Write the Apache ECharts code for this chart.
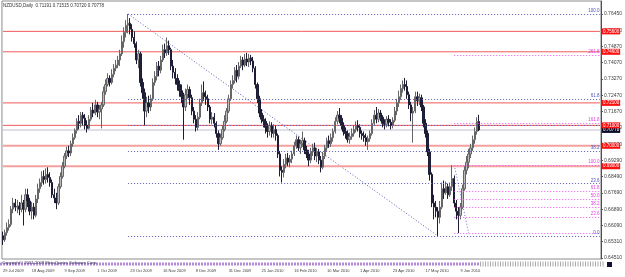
<!DOCTYPE html>
<html><head><meta charset="utf-8">
<script src="https://cdn.jsdelivr.net/npm/echarts@6/dist/echarts.min.js"></script>
<style>html,body{margin:0;padding:0;background:#fff}#c{width:625px;height:277px}</style>
</head><body><div id="c"></div>
<script>
const symbol = 'NZDUSD';
const period = 'Daily';
const slotCount = 292;
const dateTicks = ['29 Jul 2009','18 Aug 2009','9 Sep 2009','1 Oct 2009','23 Oct 2009','16 Nov 2009','8 Dec 2009','31 Dec 2009','25 Jan 2010','16 Feb 2010','10 Mar 2010','1 Apr 2010','23 Apr 2010','17 May 2010','9 Jun 2010'];
const yTicks = [0.76450,0.75650,0.74870,0.74070,0.73270,0.72470,0.71670,0.70870,0.70070,0.69290,0.68490,0.67690,0.66890,0.66090,0.65310,0.64510];
// [open, close, low, high]
const candles = [
[.6560,.6540,.6515,.6580],[.6540,.6575,.6530,.6590],[.6575,.6600,.6560,.6625],[.6600,.6615,.6585,.6640],[.6615,.6690,.6605,.6705],
[.6690,.6720,.6670,.6745],[.6720,.6700,.6680,.6740],[.6700,.6705,.6670,.6735],[.6705,.6690,.6660,.6725],[.6690,.6720,.6675,.6760],
[.6720,.6690,.6610,.6735],[.6690,.6760,.6675,.6790],[.6760,.6730,.6700,.6790],[.6730,.6680,.6660,.6745],[.6680,.6700,.6640,.6725],
[.6700,.6660,.6640,.6720],[.6660,.6740,.6650,.6760],[.6740,.6790,.6720,.6815],[.6790,.6820,.6770,.6840],[.6820,.6850,.6800,.6875],
[.6850,.6835,.6810,.6880],[.6835,.6860,.6815,.6890],[.6860,.6845,.6820,.6895],[.6845,.6820,.6800,.6870],[.6820,.6760,.6745,.6835],
[.6760,.6745,.6720,.6790],[.6745,.6720,.6690,.6770],[.6720,.6800,.6710,.6815],[.6800,.6850,.6790,.6870],[.6850,.6900,.6840,.6920],
[.6900,.6950,.6890,.6965],[.6950,.6975,.6935,.6995],[.6975,.6965,.6945,.7000],[.6965,.7010,.6950,.7025],[.7010,.7040,.6995,.7060],
[.7040,.7075,.7030,.7085],[.7075,.7120,.7060,.7135],[.7120,.7110,.7080,.7150],[.7110,.7150,.7090,.7165],[.7150,.7135,.7100,.7165],
[.7135,.7100,.7080,.7155],[.7100,.7085,.7065,.7125],[.7085,.7130,.7080,.7150],[.7130,.7175,.7120,.7190],[.7175,.7160,.7140,.7210],
[.7160,.7200,.7150,.7225],[.7200,.7165,.7140,.7215],[.7165,.7180,.7130,.7200],[.7180,.7200,.7085,.7215],[.7200,.7265,.7190,.7290],
[.7265,.7300,.7250,.7325],[.7300,.7330,.7290,.7355],[.7330,.7310,.7290,.7345],[.7310,.7350,.7300,.7375],[.7350,.7380,.7335,.7400],
[.7380,.7395,.7365,.7420],[.7395,.7420,.7380,.7440],[.7420,.7450,.7390,.7470],[.7450,.7510,.7440,.7540],[.7510,.7555,.7480,.7580],
[.7555,.7590,.7530,.7615],[.7590,.7600,.7550,.7645],[.7600,.7570,.7545,.7625],[.7570,.7530,.7510,.7595],[.7530,.7500,.7480,.7560],
[.7500,.7420,.7400,.7510],[.7420,.7450,.7380,.7470],[.7450,.7310,.7290,.7460],[.7310,.7260,.7230,.7330],[.7260,.7170,.7100,.7280],
[.7170,.7210,.7140,.7240],[.7210,.7190,.7160,.7245],[.7190,.7230,.7170,.7250],[.7230,.7310,.7220,.7330],[.7310,.7340,.7295,.7365],
[.7340,.7390,.7320,.7410],[.7390,.7370,.7340,.7415],[.7370,.7420,.7355,.7440],[.7420,.7470,.7410,.7495],[.7470,.7455,.7430,.7500],
[.7455,.7490,.7440,.7530],[.7490,.7470,.7445,.7515],[.7470,.7390,.7370,.7480],[.7390,.7360,.7330,.7420],[.7360,.7330,.7300,.7380],
[.7330,.7300,.7270,.7350],[.7300,.7270,.7240,.7320],[.7270,.7240,.7210,.7300],[.7240,.7190,.7030,.7260],[.7190,.7250,.7170,.7280],
[.7250,.7275,.7230,.7300],[.7275,.7235,.7200,.7290],[.7235,.7170,.7150,.7250],[.7170,.7130,.7110,.7190],[.7130,.7090,.7070,.7150],
[.7090,.7140,.7075,.7165],[.7140,.7210,.7130,.7230],[.7210,.7260,.7195,.7300],[.7260,.7240,.7220,.7315],[.7240,.7230,.7200,.7270],
[.7230,.7190,.7170,.7250],[.7190,.7130,.7110,.7200],[.7130,.7140,.7105,.7165],[.7140,.7110,.7090,.7160],[.7110,.7060,.7040,.7120],
[.7060,.7010,.6980,.7075],[.7010,.7040,.7000,.7060],[.7040,.7080,.7030,.7100],[.7080,.7120,.7070,.7150],[.7120,.7170,.7110,.7185],
[.7170,.7230,.7160,.7250],[.7230,.7300,.7220,.7320],[.7300,.7320,.7280,.7345],[.7320,.7370,.7305,.7385],[.7370,.7340,.7310,.7395],
[.7340,.7390,.7325,.7410],[.7390,.7420,.7380,.7440],[.7420,.7395,.7370,.7435],[.7395,.7425,.7385,.7450],[.7425,.7410,.7390,.7455],
[.7410,.7430,.7385,.7450],[.7430,.7415,.7395,.7445],[.7415,.7380,.7360,.7435],[.7380,.7300,.7280,.7390],[.7300,.7230,.7210,.7310],
[.7230,.7160,.7140,.7245],[.7160,.7130,.7110,.7180],[.7130,.7120,.7090,.7150],[.7120,.7090,.7060,.7135],[.7090,.7070,.7040,.7110],
[.7070,.7100,.7050,.7120],[.7100,.7060,.7040,.7115],[.7060,.7080,.7040,.7105],[.7080,.7050,.7025,.7100],[.7050,.6960,.6940,.7060],
[.6960,.6880,.6850,.6975],[.6880,.6870,.6820,.6900],[.6870,.6910,.6845,.6935],[.6910,.6940,.6890,.6960],[.6940,.6920,.6900,.6965],
[.6920,.6935,.6895,.6955],[.6935,.6960,.6915,.6975],[.6960,.7000,.6950,.7020],[.7000,.7030,.6985,.7050],[.7030,.6990,.6975,.7045],
[.6990,.7010,.6960,.7030],[.7010,.7025,.6995,.7070],[.7025,.6980,.6960,.7040],[.6980,.6960,.6940,.7000],[.6960,.6930,.6900,.6980],
[.6930,.6970,.6915,.6990],[.6970,.6990,.6950,.7010],[.6990,.6950,.6930,.7015],[.6950,.6970,.6920,.6990],[.6970,.6930,.6910,.6985],
[.6930,.6895,.6870,.6950],[.6895,.6950,.6885,.6970],[.6950,.6990,.6935,.7005],[.6990,.7025,.6975,.7040],[.7025,.7010,.6990,.7050],
[.7010,.7040,.6995,.7060],[.7040,.7070,.7020,.7085],[.7070,.7120,.7060,.7140],[.7120,.7150,.7105,.7170],[.7150,.7135,.7110,.7185],
[.7135,.7100,.7080,.7150],[.7100,.7070,.7050,.7115],[.7070,.7060,.7035,.7090],[.7060,.7030,.7015,.7075],[.7030,.7045,.7010,.7065],
[.7045,.7060,.7030,.7085],[.7060,.7080,.7045,.7100],[.7080,.7100,.7065,.7120],[.7100,.7090,.7070,.7125],[.7090,.7060,.7040,.7105],
[.7060,.7050,.7030,.7075],[.7050,.7040,.7020,.7070],[.7040,.7020,.7000,.7060],[.7020,.7035,.6980,.7050],[.7035,.7060,.7020,.7075],
[.7060,.7110,.7050,.7130],[.7110,.7150,.7100,.7175],[.7150,.7130,.7110,.7190],[.7130,.7160,.7115,.7180],[.7160,.7140,.7120,.7175],
[.7140,.7110,.7090,.7150],[.7110,.7105,.7080,.7130],[.7105,.7130,.7090,.7145],[.7130,.7115,.7095,.7150],[.7115,.7100,.7080,.7130],
[.7100,.7125,.7085,.7140],[.7125,.7170,.7115,.7190],[.7170,.7210,.7150,.7230],[.7210,.7240,.7190,.7270],[.7240,.7280,.7225,.7300],
[.7280,.7300,.7260,.7320],[.7300,.7290,.7270,.7332],[.7290,.7250,.7230,.7320],[.7250,.7200,.7180,.7265],[.7200,.7160,.7120,.7215],
[.7160,.7170,.7015,.7190],[.7170,.7240,.7160,.7265],[.7240,.7220,.7195,.7265],[.7220,.7235,.7200,.7255],[.7235,.7190,.7170,.7250],
[.7190,.7110,.7090,.7200],[.7110,.7060,.7040,.7130],[.7060,.6970,.6950,.7075],[.6970,.6860,.6830,.6985],[.6860,.6720,.6700,.6870],
[.6720,.6700,.6640,.6760],[.6700,.6680,.6650,.6730],[.6680,.6650,.6559,.6700],[.6650,.6700,.6620,.6730],[.6700,.6790,.6690,.6820],
[.6790,.6770,.6740,.6830],[.6770,.6800,.6760,.6825],[.6800,.6760,.6740,.6815],[.6760,.6800,.6750,.6820],[.6800,.6840,.6780,.6906],
[.6840,.6720,.6700,.6855],[.6720,.6680,.6640,.6735],[.6680,.6660,.6573,.6700],[.6660,.6700,.6640,.6720],[.6700,.6790,.6690,.6810],
[.6790,.6880,.6780,.6900],[.6880,.6920,.6860,.6950],[.6920,.6960,.6890,.6985],[.6960,.6990,.6940,.7010],[.6990,.7030,.6975,.7050],
[.7030,.7070,.7010,.7090],[.7070,.7119,.7055,.7140],[.71191,.70778,.70720,.71515]
];
const redLevels = [0.7560, 0.7460, 0.7210, 0.7100, 0.7000, 0.6900];
const bidPrice = 0.70778;
const fibAnchorsA = [[61, 0.7645], [212, 0.6559]];
const fibLevelsA = [100, 61.8, 50, 38.2, 23.6, 0];
const fibAnchorsB = [[220, 0.6906], [227, 0.6573]];
const fibLevelsB = [261.8, 161.8, 100, 61.8, 50, 38.2, 23.6, 0];
const copyrightText = 'Copyright\u00a9 2001-2009 MetaQuotes Software Corp.';

const MON = ['Jan','Feb','Mar','Apr','May','Jun','Jul','Aug','Sep','Oct','Nov','Dec'];
const cats = [];
{
  const d = new Date(Date.UTC(2009, 6, 29));
  while (cats.length < slotCount) {
    const wd = d.getUTCDay(), m = d.getUTCMonth(), dd = d.getUTCDate();
    const hol = (m === 11 && dd === 25) || (m === 0 && dd === 1);
    if (wd !== 0 && wd !== 6 && !hol) cats.push(dd + ' ' + MON[m] + ' ' + d.getUTCFullYear());
    d.setUTCDate(dd + 1);
  }
}
const firstCat = cats[0];
const lastCat = cats[cats.length - 1];
const FONT = 'Liberation Sans';

function fibLines(anchors, levels, color, hideLabels) {
  const hi = anchors[0][1], lo = anchors[1][1];
  const start = cats[Math.min(anchors[0][0], anchors[1][0])];
  return levels.map(p => {
    const v = lo + (hi - lo) * p / 100;
    return [
      { coord: [start, v], name: p.toFixed(1),
        label: { show: hideLabels.indexOf(p) < 0, position: 'insideEndTop', formatter: '{b}', color: color,
                 fontSize: 4.5, fontFamily: FONT, distance: 0.5 } },
      { coord: [lastCat, v] }
    ];
  });
}

function levelSeries(v, color, width, boxColor, z) {
  return {
    type: 'line', symbol: 'none', silent: true, z: z,
    data: [[firstCat, v], [lastCat, v]],
    lineStyle: { color: color, width: width, type: 'solid' },
    endLabel: { show: true, formatter: () => v.toFixed(5), color: '#ffffff', backgroundColor: boxColor,
                fontSize: 4.5, fontFamily: FONT, padding: [0.5, 1], distance: 2 }
  };
}

const last = candles[candles.length - 1];
const header = symbol + ',' + period + '  ' + [last[0], last[3], last[2], last[1]].map(v => v.toFixed(5)).join(' ');

const chart = echarts.init(document.getElementById('c'), null, { renderer: 'canvas' });
chart.setOption({
  animation: false,
  backgroundColor: '#ffffff',
  grid: { left: 0, right: 20, top: 1, bottom: 18, show: true, borderColor: '#8c8c8c', borderWidth: 1, backgroundColor: '#ffffff' },
  xAxis: {
    type: 'category', data: cats, boundaryGap: true,
    axisLine: { show: false }, axisTick: { show: false }, splitLine: { show: false },
    axisLabel: { interval: (i, v) => dateTicks.indexOf(v) >= 0, align: 'left', fontSize: 4, fontFamily: FONT, color: '#404040', margin: 10 }
  },
  yAxis: {
    type: 'value', position: 'right', min: 0.64461, max: 0.77086,
    splitLine: { show: false },
    axisLine: { show: true, lineStyle: { color: '#505050' } },
    axisTick: { show: true, length: 2, customValues: yTicks, lineStyle: { color: '#505050' } },
    axisLabel: { customValues: yTicks, formatter: v => v.toFixed(5), fontSize: 5, fontFamily: FONT, color: '#404040', margin: 3 }
  },
  graphic: [
    { type: 'text', left: 3, top: 3, style: { text: header, fontSize: 4.5, fontFamily: FONT, fill: '#303030' } },
    { type: 'line', shape: { x1: 0, y1: 264, x2: 480, y2: 264 }, style: { stroke: '#b48ad8', lineWidth: 3, lineDash: [2, 1] } },
    { type: 'line', shape: { x1: 480, y1: 264, x2: 604, y2: 264 }, style: { stroke: '#a8a8a8', lineWidth: 5, lineDash: [1, 1.5] } },
    { type: 'text', left: 2, top: 261, style: { text: copyrightText, fontSize: 4.2, fontFamily: FONT, fill: '#303050' } },
    { type: 'rect', shape: { x: 607, y: 262, width: 5, height: 5 }, style: { fill: '#101030' } }
  ],
  series: [levelSeries(bidPrice, '#d4d4e0', 1.5, '#0c0c28', 1)]
    .concat([
    {
      type: 'line', symbol: 'none', z: 2, silent: true,
      data: fibAnchorsA.map(a => [cats[a[0]], a[1]]),
      lineStyle: { color: '#5a5ab8', width: 1, type: [1, 2] },
      markLine: { silent: true, symbol: 'none', animation: false,
        lineStyle: { color: '#5a5ab8', width: 1, type: [1, 2] },
        data: fibLines(fibAnchorsA, fibLevelsA, '#5050b8', [50]) }
    },
    {
      type: 'line', symbol: 'none', z: 2, silent: true,
      data: fibAnchorsB.map(a => [cats[a[0]], a[1]]),
      lineStyle: { color: '#7a6ad0', width: 1, type: [1, 2] },
      markLine: { silent: true, symbol: 'none', animation: false,
        lineStyle: { color: '#f050f0', width: 1, type: [1, 2] },
        data: fibLines(fibAnchorsB, fibLevelsB, '#e040e0', [0]) }
    }])
    .concat(redLevels.map((v, k) => levelSeries(v, k < 4 ? '#f05a5a' : '#f4a0a0', k < 4 ? 1 : 2, '#ff1010', 3)))
    .concat([
    {
      type: 'candlestick', data: candles, barWidth: '90%', z: 4,
      itemStyle: { color: '#bcbcbc', borderColor: '#666666', color0: '#22223a', borderColor0: '#1c1c34', borderWidth: 1 }
    }
  ])
});
</script></body></html>
